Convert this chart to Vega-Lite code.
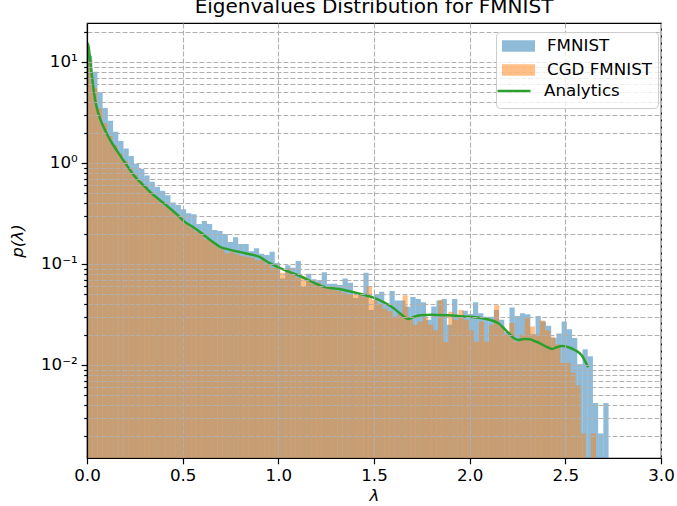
{
"$schema": "https://vega.github.io/schema/vega-lite/v6.json",
"width": 574, "height": 435,
"autosize": "none",
"padding": {"left": 87, "top": 23, "right": 16, "bottom": 48},
"background": "white",
"config": {"font": "DejaVu Sans", "view": {"stroke": "black", "strokeWidth": 1.2}},
"title": {"text": "Eigenvalues Distribution for FMNIST", "fontSize": 20, "fontWeight": "normal", "font": "DejaVu Sans", "color": "black", "offset": 6, "anchor": "middle"},
"datasets": {
"hist": [
{"series":"FMNIST","lo":0,"hi":0.0273,"density":11.5},
{"series":"FMNIST","lo":0.0273,"hi":0.0545,"density":8.0},
{"series":"FMNIST","lo":0.0545,"hi":0.0818,"density":5.0},
{"series":"FMNIST","lo":0.0818,"hi":0.109,"density":3.5},
{"series":"FMNIST","lo":0.109,"hi":0.1363,"density":2.62},
{"series":"FMNIST","lo":0.1363,"hi":0.1636,"density":2.04},
{"series":"FMNIST","lo":0.1636,"hi":0.1908,"density":1.65},
{"series":"FMNIST","lo":0.1908,"hi":0.2181,"density":1.39},
{"series":"FMNIST","lo":0.2181,"hi":0.2453,"density":1.17},
{"series":"FMNIST","lo":0.2453,"hi":0.2726,"density":0.98},
{"series":"FMNIST","lo":0.2726,"hi":0.2999,"density":0.87},
{"series":"FMNIST","lo":0.2999,"hi":0.3271,"density":0.75},
{"series":"FMNIST","lo":0.3271,"hi":0.3544,"density":0.65},
{"series":"FMNIST","lo":0.3544,"hi":0.3816,"density":0.58},
{"series":"FMNIST","lo":0.3816,"hi":0.4089,"density":0.53},
{"series":"FMNIST","lo":0.4089,"hi":0.4362,"density":0.48},
{"series":"FMNIST","lo":0.4362,"hi":0.4634,"density":0.405},
{"series":"FMNIST","lo":0.4634,"hi":0.4907,"density":0.384},
{"series":"FMNIST","lo":0.4907,"hi":0.5179,"density":0.348},
{"series":"FMNIST","lo":0.5179,"hi":0.5452,"density":0.318},
{"series":"FMNIST","lo":0.5452,"hi":0.5725,"density":0.31},
{"series":"FMNIST","lo":0.5725,"hi":0.5997,"density":0.249},
{"series":"FMNIST","lo":0.5997,"hi":0.627,"density":0.267},
{"series":"FMNIST","lo":0.627,"hi":0.6542,"density":0.249},
{"series":"FMNIST","lo":0.6542,"hi":0.6815,"density":0.217},
{"series":"FMNIST","lo":0.6815,"hi":0.7088,"density":0.212},
{"series":"FMNIST","lo":0.7088,"hi":0.736,"density":0.198},
{"series":"FMNIST","lo":0.736,"hi":0.7633,"density":0.165},
{"series":"FMNIST","lo":0.7633,"hi":0.7905,"density":0.184},
{"series":"FMNIST","lo":0.7905,"hi":0.8178,"density":0.158},
{"series":"FMNIST","lo":0.8178,"hi":0.8451,"density":0.158},
{"series":"FMNIST","lo":0.8451,"hi":0.8723,"density":0.134},
{"series":"FMNIST","lo":0.8723,"hi":0.8996,"density":0.143},
{"series":"FMNIST","lo":0.8996,"hi":0.9268,"density":0.126},
{"series":"FMNIST","lo":0.9268,"hi":0.9541,"density":0.123},
{"series":"FMNIST","lo":0.9541,"hi":0.9814,"density":0.132},
{"series":"FMNIST","lo":0.9814,"hi":1.0086,"density":0.102},
{"series":"FMNIST","lo":1.0086,"hi":1.0359,"density":0.072},
{"series":"FMNIST","lo":1.0359,"hi":1.0631,"density":0.097},
{"series":"FMNIST","lo":1.0631,"hi":1.0904,"density":0.092},
{"series":"FMNIST","lo":1.0904,"hi":1.1177,"density":0.107},
{"series":"FMNIST","lo":1.1177,"hi":1.1449,"density":0.059},
{"series":"FMNIST","lo":1.1449,"hi":1.1722,"density":0.080},
{"series":"FMNIST","lo":1.1722,"hi":1.1994,"density":0.0706},
{"series":"FMNIST","lo":1.1994,"hi":1.2267,"density":0.069},
{"series":"FMNIST","lo":1.2267,"hi":1.254,"density":0.083},
{"series":"FMNIST","lo":1.254,"hi":1.2812,"density":0.0636},
{"series":"FMNIST","lo":1.2812,"hi":1.3085,"density":0.0636},
{"series":"FMNIST","lo":1.3085,"hi":1.3357,"density":0.062},
{"series":"FMNIST","lo":1.3357,"hi":1.363,"density":0.072},
{"series":"FMNIST","lo":1.363,"hi":1.3903,"density":0.065},
{"series":"FMNIST","lo":1.3903,"hi":1.4175,"density":0.046},
{"series":"FMNIST","lo":1.4175,"hi":1.4448,"density":0.049},
{"series":"FMNIST","lo":1.4448,"hi":1.472,"density":0.082},
{"series":"FMNIST","lo":1.472,"hi":1.4993,"density":0.035},
{"series":"FMNIST","lo":1.4993,"hi":1.5266,"density":0.05},
{"series":"FMNIST","lo":1.5266,"hi":1.5538,"density":0.053},
{"series":"FMNIST","lo":1.5538,"hi":1.5811,"density":0.04},
{"series":"FMNIST","lo":1.5811,"hi":1.6083,"density":0.054},
{"series":"FMNIST","lo":1.6083,"hi":1.6356,"density":0.0436},
{"series":"FMNIST","lo":1.6356,"hi":1.6629,"density":0.0436},
{"series":"FMNIST","lo":1.6629,"hi":1.6901,"density":0.0377},
{"series":"FMNIST","lo":1.6901,"hi":1.7174,"density":0.047},
{"series":"FMNIST","lo":1.7174,"hi":1.7446,"density":0.045},
{"series":"FMNIST","lo":1.7446,"hi":1.7719,"density":0.0418},
{"series":"FMNIST","lo":1.7719,"hi":1.7992,"density":0.028},
{"series":"FMNIST","lo":1.7992,"hi":1.8264,"density":0.038},
{"series":"FMNIST","lo":1.8264,"hi":1.8537,"density":0.0436},
{"series":"FMNIST","lo":1.8537,"hi":1.8809,"density":0.045},
{"series":"FMNIST","lo":1.8809,"hi":1.9082,"density":0.025},
{"series":"FMNIST","lo":1.9082,"hi":1.9355,"density":0.045},
{"series":"FMNIST","lo":1.9355,"hi":1.9627,"density":0.03},
{"series":"FMNIST","lo":1.9627,"hi":1.99,"density":0.0345},
{"series":"FMNIST","lo":1.99,"hi":2.0172,"density":0.032},
{"series":"FMNIST","lo":2.0172,"hi":2.0445,"density":0.0418},
{"series":"FMNIST","lo":2.0445,"hi":2.0718,"density":0.0325},
{"series":"FMNIST","lo":2.0718,"hi":2.099,"density":0.03},
{"series":"FMNIST","lo":2.099,"hi":2.1263,"density":0.03},
{"series":"FMNIST","lo":2.1263,"hi":2.1535,"density":0.035},
{"series":"FMNIST","lo":2.1535,"hi":2.1808,"density":0.028},
{"series":"FMNIST","lo":2.1808,"hi":2.2081,"density":0.0213},
{"series":"FMNIST","lo":2.2081,"hi":2.2353,"density":0.037},
{"series":"FMNIST","lo":2.2353,"hi":2.2626,"density":0.0306},
{"series":"FMNIST","lo":2.2626,"hi":2.2898,"density":0.0325},
{"series":"FMNIST","lo":2.2898,"hi":2.3171,"density":0.0318},
{"series":"FMNIST","lo":2.3171,"hi":2.3444,"density":0.0202},
{"series":"FMNIST","lo":2.3444,"hi":2.3716,"density":0.0306},
{"series":"FMNIST","lo":2.3716,"hi":2.3989,"density":0.027},
{"series":"FMNIST","lo":2.3989,"hi":2.4261,"density":0.0245},
{"series":"FMNIST","lo":2.4261,"hi":2.4534,"density":0.0185},
{"series":"FMNIST","lo":2.4534,"hi":2.4807,"density":0.0205},
{"series":"FMNIST","lo":2.4807,"hi":2.5079,"density":0.027},
{"series":"FMNIST","lo":2.5079,"hi":2.5352,"density":0.0226},
{"series":"FMNIST","lo":2.5352,"hi":2.5624,"density":0.0185},
{"series":"FMNIST","lo":2.5624,"hi":2.5897,"density":0.0102},
{"series":"FMNIST","lo":2.5897,"hi":2.617,"density":0.0143},
{"series":"FMNIST","lo":2.617,"hi":2.6442,"density":0.0122},
{"series":"FMNIST","lo":2.6442,"hi":2.6715,"density":0.0042},
{"series":"FMNIST","lo":2.6715,"hi":2.6987,"density":0.0021},
{"series":"FMNIST","lo":2.6987,"hi":2.726,"density":0.0042},
{"series":"CGD FMNIST","lo":0,"hi":0.0266,"density":10.6},
{"series":"CGD FMNIST","lo":0.0266,"hi":0.0532,"density":5.5},
{"series":"CGD FMNIST","lo":0.0532,"hi":0.0798,"density":3.47},
{"series":"CGD FMNIST","lo":0.0798,"hi":0.1064,"density":2.47},
{"series":"CGD FMNIST","lo":0.1064,"hi":0.133,"density":1.85},
{"series":"CGD FMNIST","lo":0.133,"hi":0.1596,"density":1.5},
{"series":"CGD FMNIST","lo":0.1596,"hi":0.1862,"density":1.25},
{"series":"CGD FMNIST","lo":0.1862,"hi":0.2128,"density":1.05},
{"series":"CGD FMNIST","lo":0.2128,"hi":0.2394,"density":0.88},
{"series":"CGD FMNIST","lo":0.2394,"hi":0.266,"density":0.76},
{"series":"CGD FMNIST","lo":0.266,"hi":0.2926,"density":0.66},
{"series":"CGD FMNIST","lo":0.2926,"hi":0.3192,"density":0.58},
{"series":"CGD FMNIST","lo":0.3192,"hi":0.3458,"density":0.52},
{"series":"CGD FMNIST","lo":0.3458,"hi":0.3724,"density":0.46},
{"series":"CGD FMNIST","lo":0.3724,"hi":0.399,"density":0.42},
{"series":"CGD FMNIST","lo":0.399,"hi":0.4256,"density":0.37},
{"series":"CGD FMNIST","lo":0.4256,"hi":0.4522,"density":0.345},
{"series":"CGD FMNIST","lo":0.4522,"hi":0.4788,"density":0.31},
{"series":"CGD FMNIST","lo":0.4788,"hi":0.5054,"density":0.285},
{"series":"CGD FMNIST","lo":0.5054,"hi":0.532,"density":0.25},
{"series":"CGD FMNIST","lo":0.532,"hi":0.5586,"density":0.23},
{"series":"CGD FMNIST","lo":0.5586,"hi":0.5852,"density":0.21},
{"series":"CGD FMNIST","lo":0.5852,"hi":0.6118,"density":0.2},
{"series":"CGD FMNIST","lo":0.6118,"hi":0.6384,"density":0.175},
{"series":"CGD FMNIST","lo":0.6384,"hi":0.665,"density":0.168},
{"series":"CGD FMNIST","lo":0.665,"hi":0.6916,"density":0.15},
{"series":"CGD FMNIST","lo":0.6916,"hi":0.7182,"density":0.14},
{"series":"CGD FMNIST","lo":0.7182,"hi":0.7448,"density":0.128},
{"series":"CGD FMNIST","lo":0.7448,"hi":0.7714,"density":0.132},
{"series":"CGD FMNIST","lo":0.7714,"hi":0.798,"density":0.125},
{"series":"CGD FMNIST","lo":0.798,"hi":0.8246,"density":0.12},
{"series":"CGD FMNIST","lo":0.8246,"hi":0.8512,"density":0.118},
{"series":"CGD FMNIST","lo":0.8512,"hi":0.8778,"density":0.115},
{"series":"CGD FMNIST","lo":0.8778,"hi":0.9044,"density":0.108},
{"series":"CGD FMNIST","lo":0.9044,"hi":0.931,"density":0.11},
{"series":"CGD FMNIST","lo":0.931,"hi":0.9576,"density":0.1},
{"series":"CGD FMNIST","lo":0.9576,"hi":0.9842,"density":0.092},
{"series":"CGD FMNIST","lo":0.9842,"hi":1.0108,"density":0.095},
{"series":"CGD FMNIST","lo":1.0108,"hi":1.0374,"density":0.082},
{"series":"CGD FMNIST","lo":1.0374,"hi":1.064,"density":0.09},
{"series":"CGD FMNIST","lo":1.064,"hi":1.0906,"density":0.08},
{"series":"CGD FMNIST","lo":1.0906,"hi":1.1172,"density":0.073},
{"series":"CGD FMNIST","lo":1.1172,"hi":1.1438,"density":0.075},
{"series":"CGD FMNIST","lo":1.1438,"hi":1.1704,"density":0.068},
{"series":"CGD FMNIST","lo":1.1704,"hi":1.197,"density":0.064},
{"series":"CGD FMNIST","lo":1.197,"hi":1.2236,"density":0.065},
{"series":"CGD FMNIST","lo":1.2236,"hi":1.2502,"density":0.058},
{"series":"CGD FMNIST","lo":1.2502,"hi":1.2768,"density":0.06},
{"series":"CGD FMNIST","lo":1.2768,"hi":1.3034,"density":0.055},
{"series":"CGD FMNIST","lo":1.3034,"hi":1.33,"density":0.054},
{"series":"CGD FMNIST","lo":1.33,"hi":1.3566,"density":0.052},
{"series":"CGD FMNIST","lo":1.3566,"hi":1.3832,"density":0.05},
{"series":"CGD FMNIST","lo":1.3832,"hi":1.4098,"density":0.05},
{"series":"CGD FMNIST","lo":1.4098,"hi":1.4364,"density":0.052},
{"series":"CGD FMNIST","lo":1.4364,"hi":1.463,"density":0.047},
{"series":"CGD FMNIST","lo":1.463,"hi":1.4896,"density":0.0607},
{"series":"CGD FMNIST","lo":1.4896,"hi":1.5162,"density":0.044},
{"series":"CGD FMNIST","lo":1.5162,"hi":1.5428,"density":0.04},
{"series":"CGD FMNIST","lo":1.5428,"hi":1.5694,"density":0.036},
{"series":"CGD FMNIST","lo":1.5694,"hi":1.596,"density":0.034},
{"series":"CGD FMNIST","lo":1.596,"hi":1.6226,"density":0.03},
{"series":"CGD FMNIST","lo":1.6226,"hi":1.6492,"density":0.032},
{"series":"CGD FMNIST","lo":1.6492,"hi":1.6758,"density":0.049},
{"series":"CGD FMNIST","lo":1.6758,"hi":1.7024,"density":0.03},
{"series":"CGD FMNIST","lo":1.7024,"hi":1.729,"density":0.025},
{"series":"CGD FMNIST","lo":1.729,"hi":1.7556,"density":0.027},
{"series":"CGD FMNIST","lo":1.7556,"hi":1.7822,"density":0.03},
{"series":"CGD FMNIST","lo":1.7822,"hi":1.8088,"density":0.025},
{"series":"CGD FMNIST","lo":1.8088,"hi":1.8354,"density":0.022},
{"series":"CGD FMNIST","lo":1.8354,"hi":1.862,"density":0.044},
{"series":"CGD FMNIST","lo":1.862,"hi":1.8886,"density":0.0169},
{"series":"CGD FMNIST","lo":1.8886,"hi":1.9152,"density":0.0337},
{"series":"CGD FMNIST","lo":1.9152,"hi":1.9418,"density":0.028},
{"series":"CGD FMNIST","lo":1.9418,"hi":1.9684,"density":0.035},
{"series":"CGD FMNIST","lo":1.9684,"hi":1.995,"density":0.028},
{"series":"CGD FMNIST","lo":1.995,"hi":2.0216,"density":0.022},
{"series":"CGD FMNIST","lo":2.0216,"hi":2.0482,"density":0.017},
{"series":"CGD FMNIST","lo":2.0482,"hi":2.0748,"density":0.027},
{"series":"CGD FMNIST","lo":2.0748,"hi":2.1014,"density":0.017},
{"series":"CGD FMNIST","lo":2.1014,"hi":2.128,"density":0.025},
{"series":"CGD FMNIST","lo":2.128,"hi":2.1546,"density":0.039},
{"series":"CGD FMNIST","lo":2.1546,"hi":2.1812,"density":0.024},
{"series":"CGD FMNIST","lo":2.1812,"hi":2.2078,"density":0.02},
{"series":"CGD FMNIST","lo":2.2078,"hi":2.2344,"density":0.026},
{"series":"CGD FMNIST","lo":2.2344,"hi":2.261,"density":0.017},
{"series":"CGD FMNIST","lo":2.261,"hi":2.2876,"density":0.02},
{"series":"CGD FMNIST","lo":2.2876,"hi":2.3142,"density":0.029},
{"series":"CGD FMNIST","lo":2.3142,"hi":2.3408,"density":0.024},
{"series":"CGD FMNIST","lo":2.3408,"hi":2.3674,"density":0.02},
{"series":"CGD FMNIST","lo":2.3674,"hi":2.394,"density":0.0275},
{"series":"CGD FMNIST","lo":2.394,"hi":2.4206,"density":0.022},
{"series":"CGD FMNIST","lo":2.4206,"hi":2.4472,"density":0.019},
{"series":"CGD FMNIST","lo":2.4472,"hi":2.4738,"density":0.016},
{"series":"CGD FMNIST","lo":2.4738,"hi":2.5004,"density":0.0105},
{"series":"CGD FMNIST","lo":2.5004,"hi":2.527,"density":0.0105},
{"series":"CGD FMNIST","lo":2.527,"hi":2.5536,"density":0.0084},
{"series":"CGD FMNIST","lo":2.5536,"hi":2.5802,"density":0.0063},
{"series":"CGD FMNIST","lo":2.5802,"hi":2.6068,"density":0.0021},
{"series":"CGD FMNIST","lo":2.6334,"hi":2.66,"density":0.0021}
],
"analytics": [
{"lam":0.0,"density":5.6},{"lam":0.005,"density":15.2},{"lam":0.012,"density":12.5},{"lam":0.025,"density":7.5},
{"lam":0.04,"density":4.5},{"lam":0.059,"density":3.1},{"lam":0.075,"density":2.55},{"lam":0.094,"density":2.12},
{"lam":0.12,"density":1.7},{"lam":0.164,"density":1.26},{"lam":0.2,"density":1.0},{"lam":0.251,"density":0.73},
{"lam":0.3,"density":0.59},{"lam":0.338,"density":0.5},{"lam":0.38,"density":0.43},{"lam":0.425,"density":0.367},
{"lam":0.47,"density":0.31},{"lam":0.512,"density":0.26},{"lam":0.55,"density":0.235},{"lam":0.591,"density":0.207},
{"lam":0.64,"density":0.175},{"lam":0.695,"density":0.148},{"lam":0.75,"density":0.138},{"lam":0.8,"density":0.131},
{"lam":0.85,"density":0.125},{"lam":0.904,"density":0.117},{"lam":0.95,"density":0.103},{"lam":1.009,"density":0.091},
{"lam":1.06,"density":0.083},{"lam":1.113,"density":0.076},{"lam":1.18,"density":0.066},{"lam":1.244,"density":0.059},
{"lam":1.3,"density":0.057},{"lam":1.349,"density":0.055},{"lam":1.42,"density":0.051},{"lam":1.49,"density":0.047},
{"lam":1.55,"density":0.042},{"lam":1.594,"density":0.0375},{"lam":1.64,"density":0.032},{"lam":1.678,"density":0.0285},
{"lam":1.71,"density":0.03},{"lam":1.741,"density":0.031},{"lam":1.8,"density":0.0315},{"lam":1.887,"density":0.031},
{"lam":1.97,"density":0.0302},{"lam":2.065,"density":0.029},{"lam":2.11,"density":0.0278},{"lam":2.148,"density":0.026},
{"lam":2.175,"density":0.0235},{"lam":2.2,"density":0.021},{"lam":2.23,"density":0.0185},{"lam":2.253,"density":0.0177},
{"lam":2.285,"density":0.0181},{"lam":2.316,"density":0.018},{"lam":2.34,"density":0.0172},{"lam":2.368,"density":0.0164},
{"lam":2.4,"density":0.0152},{"lam":2.431,"density":0.0144},{"lam":2.455,"density":0.015},{"lam":2.483,"density":0.0154},
{"lam":2.52,"density":0.0149},{"lam":2.551,"density":0.014},{"lam":2.585,"density":0.0125},{"lam":2.619,"density":0.0095}
]
},
"layer": [
{
"data": {"name": "hist"},
"mark": {"type": "bar", "opacity": 0.5, "clip": true},
"encoding": {
"x": {"field": "lo", "type": "quantitative", "scale": {"domain": [0, 3], "nice": false, "zero": false},
"axis": {"values": [0, 0.5, 1, 1.5, 2, 2.5, 3], "format": ".1f", "title": "λ", "titleFontStyle": "italic", "titleFontSize": 16.7, "titleFontWeight": "normal", "titleColor": "black", "titlePadding": 3,
"labelFontSize": 16.7, "labelColor": "black", "labelPadding": 4, "labelFlush": false, "tickColor": "black", "tickSize": 5.8, "tickWidth": 1.2,
"domainColor": "black", "domainWidth": 1.2, "grid": true, "gridColor": "#b0b0b0", "gridDash": [4.9, 2.1], "gridWidth": 1.1, "zindex": 1}},
"x2": {"field": "hi"},
"y": {"field": "density", "type": "quantitative", "scale": {"type": "log", "domain": [0.0012, 24.3], "nice": false},
"axis": {"values": [0.002,0.003,0.004,0.005,0.006,0.007,0.008,0.009,0.01,0.02,0.03,0.04,0.05,0.06,0.07,0.08,0.09,0.1,0.2,0.3,0.4,0.5,0.6,0.7,0.8,0.9,1,2,3,4,5,6,7,8,9,10,20],
"labelExpr": "datum.value == 10 ? '10¹' : datum.value == 1 ? '10⁰' : datum.value == 0.1 ? '10⁻¹' : datum.value == 0.01 ? '10⁻²' : ''",
"title": "p(λ)", "titleFontStyle": "italic", "titleFontSize": 16.7, "titleFontWeight": "normal", "titleColor": "black", "titlePadding": 14,
"labelFontSize": 16.7, "labelColor": "black", "labelPadding": 4, "labelFlush": false, "labelOverlap": false,
"tickColor": "black", "tickWidth": 1.2,
"tickSize": {"condition": {"test": "datum.value == 10 || datum.value == 1 || datum.value == 0.1 || datum.value == 0.01", "value": 5.8}, "value": 3.3},
"domainColor": "black", "domainWidth": 1.2, "grid": true, "gridColor": "#b0b0b0", "gridDash": [4.9, 2.1], "gridWidth": 1.1, "zindex": 1}},
"y2": {"datum": 0.0012},
"fill": {"field": "series", "type": "nominal", "sort": null,
"scale": {"domain": ["FMNIST", "CGD FMNIST"], "range": ["#1f77b4", "#ff7f0e"]},
"legend": {"title": "\u00a0", "titleOrient": "bottom", "titleFontSize": 16.7, "titlePadding": 6,
"orient": "none", "legendX": 409, "legendY": 9, "padding": 6, "zindex": 1,
"fillColor": "rgba(255,255,255,0.8)", "strokeColor": "#cccccc", "cornerRadius": 4,
"labelFontSize": 16.7, "labelColor": "black", "labelOffset": 12, "symbolSize": 1089, "clipHeight": 16, "rowPadding": 7,
"symbolType": "M-1,-0.354H1V0.354H-1Z", "symbolStrokeWidth": 0}}
}
},
{
"data": {"name": "analytics"},
"mark": {"type": "line", "strokeWidth": 2.5, "interpolate": "monotone", "clip": true},
"encoding": {
"x": {"field": "lam", "type": "quantitative"},
"y": {"field": "density", "type": "quantitative"},
"stroke": {"datum": "Analytics", "type": "nominal",
"scale": {"domain": ["Analytics"], "range": ["#2ca02c"]},
"legend": {"title": null, "orient": "none", "legendX": 403, "legendY": 54, "padding": 6, "zindex": 2,
"labelFontSize": 16.7, "labelColor": "black", "labelOffset": 12, "symbolSize": 1089, "clipHeight": 16,
"symbolType": "M-1,0H1", "symbolStrokeWidth": 2.5}}
}
}
]
}
